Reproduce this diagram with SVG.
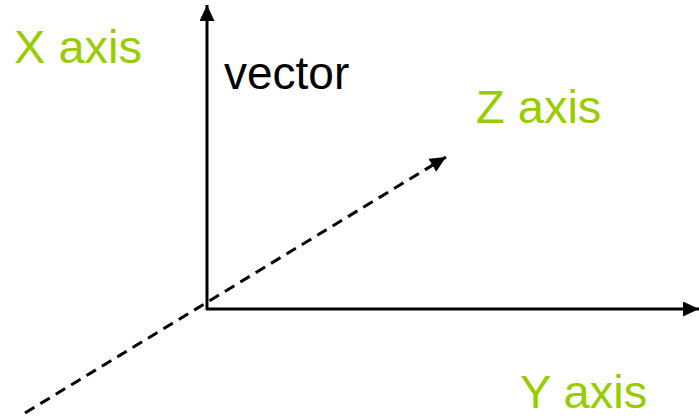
<svg xmlns="http://www.w3.org/2000/svg" width="699" height="419" viewBox="0 0 699 419">
  <style>
    .axis { stroke: #000; stroke-width: 3; fill: none; }
    .dash { stroke-dasharray: 11 7; }
    .lbl { font-family: "Liberation Sans", Arial, sans-serif; font-size: 47px; fill: #99CC00; }
    .vec { font-family: "Liberation Sans", Arial, sans-serif; font-size: 46px; fill: #000; }
  </style>
  <defs>
    <marker id="arrow" markerUnits="userSpaceOnUse" markerWidth="17" markerHeight="15" refX="16" refY="7.5" orient="auto">
      <polygon points="0,0 16,7.5 0,15" fill="#000"/>
    </marker>
  </defs>
  <rect width="699" height="419" fill="#fff"/>
  <g id="connectors">
    <line id="x-axis" class="axis" x1="207" y1="310" x2="207" y2="5" marker-end="url(#arrow)"/>
    <line id="y-axis" class="axis" x1="206" y1="309" x2="699" y2="309" marker-end="url(#arrow)"/>
    <line id="z-axis" class="axis dash" x1="25" y1="413" x2="446" y2="157" marker-end="url(#arrow)"/>
  </g>
  <g id="label-x"><text class="lbl" x="14" y="63">X axis</text></g>
  <g id="label-vector"><text class="vec" x="224" y="89">vector</text></g>
  <g id="label-z"><text class="lbl" x="476" y="123">Z axis</text></g>
  <g id="label-y"><text class="lbl" x="520" y="408">Y axis</text></g>
</svg>
